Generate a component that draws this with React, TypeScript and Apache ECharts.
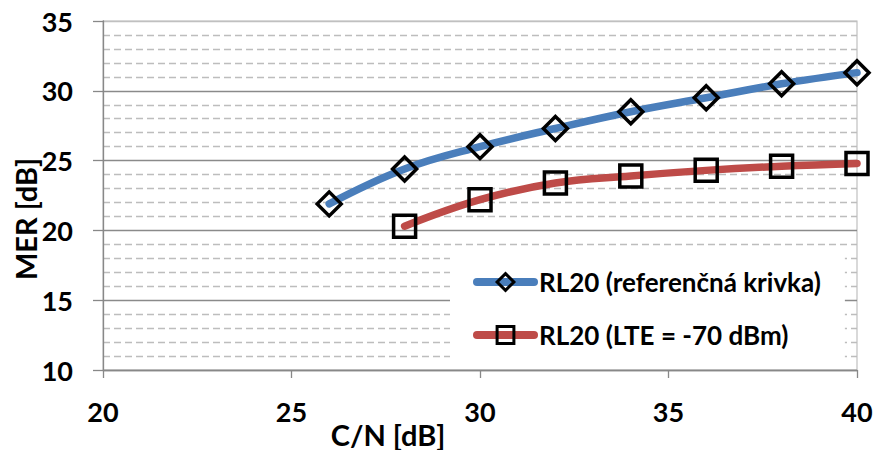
import React, { useEffect, useRef } from "react";
import * as echarts from "echarts";

const xValues = [26, 28, 30, 32, 34, 36, 38, 40];
const refCurve = [21.9, 24.4, 26.0, 27.3, 28.5, 29.5, 30.5, 31.3];
const lteX = [28, 30, 32, 34, 36, 38, 40];
const lteCurve = [20.3, 22.2, 23.4, 23.9, 24.3, 24.6, 24.8];
const seriesNames = ["RL20 (referenčná krivka)", "RL20 (LTE = -70 dBm)"];
const xTitle = "C/N [dB]";
const yTitle = "MER [dB]";

const FONT = "Lato, 'Open Sans', sans-serif";

export default function App() {
  const ref = useRef<HTMLDivElement>(null);
  useEffect(() => {
    if (!ref.current) return;
    document.body.style.margin = "0";
    const chart = echarts.init(ref.current, null, { renderer: "svg" });
    const s1 = xValues.map((x, i) => [x, refCurve[i]]);
    const s2 = lteX.map((x, i) => [x, lteCurve[i]]);
    const markerStyle = {
      color: "rgba(255,255,255,0)",
      borderColor: "#000",
      borderWidth: 3.5,
    };
    chart.setOption({
      animation: false,
      textStyle: { fontFamily: FONT, fontWeight: "bold", color: "#000" },
      grid: {
        left: 103,
        right: 20,
        top: 21,
        bottom: 80,
        show: true,
        borderColor: "#c0c0c0",
        borderWidth: 1.2,
        backgroundColor: "transparent",
      },
      xAxis: {
        type: "value",
        min: 20,
        max: 40,
        interval: 5,
        axisLine: { show: true, lineStyle: { color: "#888", width: 1.3 } },
        axisTick: { show: true, length: 8, lineStyle: { color: "#888", width: 1.3 } },
        axisLabel: {
          margin: 28,
          fontSize: 27,
          fontWeight: "bold",
          fontFamily: FONT,
          color: "#000",
        },
        splitLine: { show: false },
      },
      yAxis: {
        type: "value",
        min: 10,
        max: 35,
        interval: 5,
        axisLine: { show: true, lineStyle: { color: "#888", width: 1.3 } },
        axisTick: { show: true, length: 10, lineStyle: { color: "#888", width: 1.3 } },
        axisLabel: {
          margin: 30,
          fontSize: 27,
          fontWeight: "bold",
          fontFamily: FONT,
          color: "#000",
        },
        splitLine: {
          show: true,
          lineStyle: {
            color: ["#8a8a8a", "#8a8a8a", "#8a8a8a", "#8a8a8a", "#8a8a8a", "#c0c0c0"],
            width: 1.3,
          },
        },
        minorTick: { show: false, splitNumber: 5 },
        minorSplitLine: {
          show: true,
          lineStyle: { color: "#bdbdbd", width: 1.3, type: [7, 4] },
        },
      },
      legend: {
        left: 450,
        top: 250,
        orient: "vertical",
        padding: [19, 24, 12, 23],
        backgroundColor: "#fff",
        itemWidth: 57,
        itemHeight: 21,
        itemGap: 27,
        textStyle: { fontSize: 26, fontWeight: "bold", fontFamily: FONT, color: "#000" },
        lineStyle: { width: 8, cap: "round" },
        itemStyle: { borderWidth: 3 },
        data: seriesNames,
      },
      series: [
        {
          name: seriesNames[0],
          type: "line",
          data: s1,
          smooth: 0.4,
          symbol: "diamond",
          symbolSize: 24,
          lineStyle: { color: "#4a7ebb", width: 7.5, cap: "round" },
          itemStyle: markerStyle,
          z: 3,
        },
        {
          name: seriesNames[1],
          type: "line",
          data: s2,
          smooth: 0.4,
          symbol: "rect",
          symbolSize: 22,
          lineStyle: { color: "#be4b48", width: 7.5, cap: "round" },
          itemStyle: markerStyle,
          z: 2,
        },
      ],
      graphic: [
        {
          type: "text",
          x: 388,
          y: 434,
          style: {
            text: xTitle,
            fontSize: 29,
            fontWeight: "bold",
            fontFamily: FONT,
            fill: "#000",
            align: "center",
            verticalAlign: "middle",
          },
        },
        {
          type: "text",
          x: 25,
          y: 219,
          rotation: Math.PI / 2,
          style: {
            text: yTitle,
            fontSize: 29,
            fontWeight: "bold",
            fontFamily: FONT,
            fill: "#000",
            align: "center",
            verticalAlign: "middle",
          },
        },
      ],
    });
    return () => chart.dispose();
  }, []);
  return (
    <div
      ref={ref}
      style={{ position: "absolute", left: 0, top: 0, width: 877, height: 450 }}
    />
  );
}
